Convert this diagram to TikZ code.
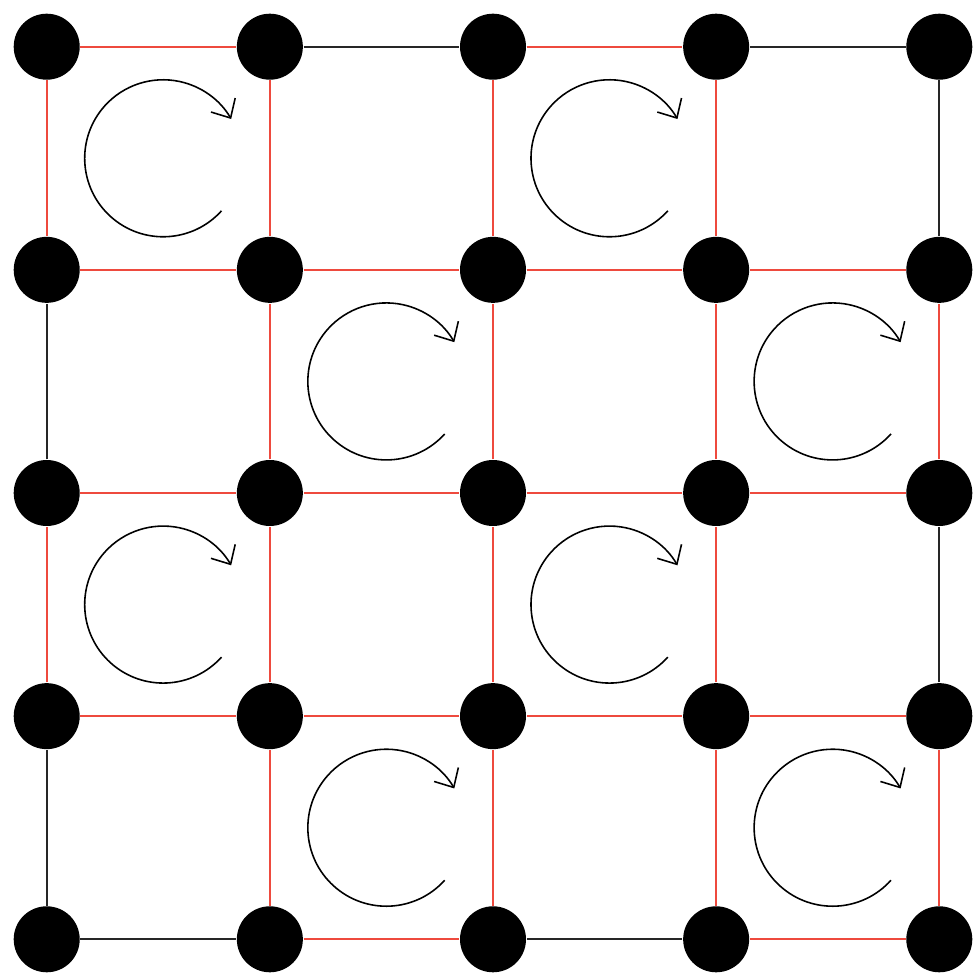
\documentclass[tikz,border=0pt]{standalone}
\usepackage{tikz}
\usetikzlibrary{arrows.meta}
\definecolor{edgered}{RGB}{238,74,62}

\begin{document}
\begin{tikzpicture}[
  x=2.2315cm, y=2.2315cm,
  site/.style={circle, fill=black, inner sep=0pt, minimum size=6.6mm},
  redbond/.style={draw=edgered, line width=0.6pt},
  blackbond/.style={draw=black!85, line width=0.6pt},
  turn/.style={-{Straight Barb[length=1.5mm, width=2.8mm]}, line width=0.45pt}
]
\useasboundingbox (-0.2093,-0.1824) rectangle (4.1823,4.2093);

% lattice sites
\foreach \i in {0,...,4}
  \foreach \j in {0,...,4}
    \node[site] (n\i\j) at (\i,\j) {};

% horizontal bonds
\foreach \j in {0,...,4}
  \foreach \i in {0,...,3} {
    \pgfmathtruncatemacro\k{\i+1}
    \pgfmathtruncatemacro\isred{(\j>0)*(\j<4)+(\j==0)*mod(\i,2)+(\j==4)*mod(\i+1,2)}
    \ifnum\isred>0 \draw[redbond] (n\i\j) -- (n\k\j);
    \else \draw[blackbond] (n\i\j) -- (n\k\j); \fi
  }

% vertical bonds
\foreach \i in {0,...,4}
  \foreach \j in {0,...,3} {
    \pgfmathtruncatemacro\k{\j+1}
    \pgfmathtruncatemacro\isred{(\i>0)*(\i<4)+(\i==0)*mod(\j,2)+(\i==4)*mod(\j+1,2)}
    \ifnum\isred>0 \draw[redbond] (n\i\j) -- (n\i\k);
    \else \draw[blackbond] (n\i\j) -- (n\i\k); \fi
  }

% circulation on the marked plaquettes
\foreach \i/\j in {0/3,2/3,1/2,3/2,0/1,2/1,1/0,3/0}
  \draw[turn] ([shift={(\i+0.522,\j+0.5)}]-42:0.785cm)
    arc[start angle=-42, end angle=-330, radius=0.785cm];

\end{tikzpicture}
\end{document}
